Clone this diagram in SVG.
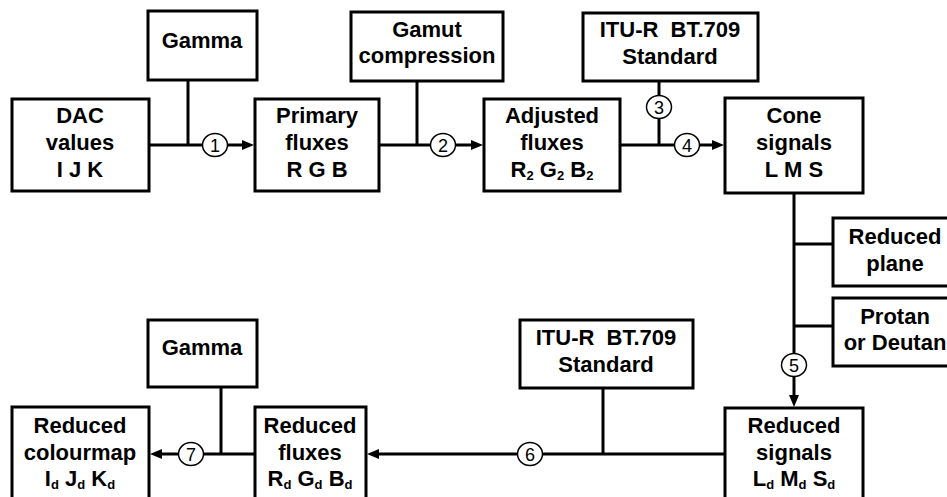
<svg xmlns="http://www.w3.org/2000/svg" width="947" height="497" viewBox="0 0 947 497">
<style>
.box{fill:#fff;stroke:#000;stroke-width:3}
.t{font-family:"Liberation Sans",Arial,sans-serif;font-weight:bold;font-size:22px;text-anchor:middle;fill:#000;white-space:pre}
.sub{font-size:13px}
.c{fill:#fff;stroke:#000;stroke-width:1.5}
.n{font-family:"Liberation Sans",Arial,sans-serif;font-size:18px;text-anchor:middle;fill:#000}
.ln{fill:none;stroke:#000;stroke-width:3}
</style>
<defs>
<marker id="ah" viewBox="0 0 12 10" refX="2" refY="5" markerWidth="12" markerHeight="10" markerUnits="userSpaceOnUse" orient="auto">
<path d="M0,0 L12,5 L0,10 z" fill="#000"/>
</marker>
</defs>
<rect width="947" height="497" fill="#fff"/>

<g id="connectors">
<line class="ln" x1="149" y1="145" x2="244" y2="145" marker-end="url(#ah)"/>
<line class="ln" x1="188" y1="80" x2="188" y2="145"/>
<line class="ln" x1="379" y1="145" x2="473" y2="145" marker-end="url(#ah)"/>
<line class="ln" x1="417" y1="81" x2="417" y2="145"/>
<line class="ln" x1="620" y1="145" x2="714" y2="145" marker-end="url(#ah)"/>
<line class="ln" x1="659" y1="81" x2="659" y2="145"/>
<line class="ln" x1="794" y1="193" x2="794" y2="397" marker-end="url(#ah)"/>
<line class="ln" x1="794" y1="244" x2="833" y2="244"/>
<line class="ln" x1="794" y1="326" x2="833" y2="326"/>
<line class="ln" x1="725" y1="454" x2="377" y2="454" marker-end="url(#ah)"/>
<line class="ln" x1="603" y1="388" x2="603" y2="454"/>
<line class="ln" x1="255" y1="454" x2="160" y2="454" marker-end="url(#ah)"/>
<line class="ln" x1="221" y1="387" x2="221" y2="454"/>
<g id="c1"><ellipse class="c" cx="215" cy="145" rx="12.5" ry="11.5"/><text class="n" x="215" y="151.5">1</text></g>
<g id="c2"><ellipse class="c" cx="443" cy="145" rx="12.5" ry="11.5"/><text class="n" x="443" y="151.5">2</text></g>
<g id="c3"><ellipse class="c" cx="659" cy="107" rx="12.5" ry="11.5"/><text class="n" x="659" y="113.5">3</text></g>
<g id="c4"><ellipse class="c" cx="687" cy="145" rx="12.5" ry="11.5"/><text class="n" x="687" y="151.5">4</text></g>
<g id="c5"><ellipse class="c" cx="794" cy="365" rx="12.5" ry="11.5"/><text class="n" x="794" y="371.5">5</text></g>
<g id="c6"><ellipse class="c" cx="530" cy="454" rx="12.5" ry="11.5"/><text class="n" x="530" y="460.5">6</text></g>
<g id="c7"><ellipse class="c" cx="191" cy="454" rx="12.5" ry="11.5"/><text class="n" x="191" y="460.5">7</text></g>
</g>

<g id="dac"><rect class="box" x="12" y="99" width="137" height="92"/>
<text class="t" x="80" y="123">DAC</text><text class="t" x="80" y="150">values</text><text class="t" x="80" y="177">I J K</text></g>

<g id="gamma1"><rect class="box" x="148" y="11" width="109" height="69"/>
<text class="t" x="202" y="48">Gamma</text></g>

<g id="primary"><rect class="box" x="255" y="99" width="124" height="92"/>
<text class="t" x="317" y="123">Primary</text><text class="t" x="317" y="150">fluxes</text><text class="t" x="317" y="177">R G B</text></g>

<g id="gamut"><rect class="box" x="351" y="12" width="152" height="69"/>
<text class="t" x="427" y="37">Gamut</text><text class="t" x="427" y="63">compression</text></g>

<g id="adjusted"><rect class="box" x="484" y="99" width="136" height="92"/>
<text class="t" x="552" y="123">Adjusted</text><text class="t" x="552" y="150">fluxes</text>
<text class="t" x="552" y="177">R<tspan class="sub" dy="3">2</tspan><tspan dy="-3"> G</tspan><tspan class="sub" dy="3">2</tspan><tspan dy="-3"> B</tspan><tspan class="sub" dy="3">2</tspan></text></g>

<g id="itu1"><rect class="box" x="583" y="13" width="175" height="68"/>
<text class="t" x="670" y="37">ITU-R  BT.709</text><text class="t" x="670" y="64">Standard</text></g>

<g id="cone"><rect class="box" x="725" y="98" width="138" height="95"/>
<text class="t" x="794" y="123">Cone</text><text class="t" x="794" y="150">signals</text><text class="t" x="794" y="177">L M S</text></g>

<g id="plane"><rect class="box" x="833" y="218" width="130" height="68"/>
<text class="t" x="895" y="244">Reduced</text><text class="t" x="895" y="271">plane</text></g>

<g id="protan"><rect class="box" x="833" y="298" width="130" height="68"/>
<text class="t" x="895" y="324">Protan</text><text class="t" x="895" y="350">or Deutan</text></g>

<g id="rsignals"><rect class="box" x="725" y="408" width="138" height="100"/>
<text class="t" x="794" y="433">Reduced</text><text class="t" x="794" y="460">signals</text>
<text class="t" x="794" y="486">L<tspan class="sub" dy="3">d</tspan><tspan dy="-3"> M</tspan><tspan class="sub" dy="3">d</tspan><tspan dy="-3"> S</tspan><tspan class="sub" dy="3">d</tspan></text></g>

<g id="itu2"><rect class="box" x="520" y="320" width="173" height="68"/>
<text class="t" x="606" y="345">ITU-R  BT.709</text><text class="t" x="606" y="372">Standard</text></g>

<g id="rfluxes"><rect class="box" x="255" y="407" width="111" height="100"/>
<text class="t" x="310" y="433">Reduced</text><text class="t" x="310" y="460">fluxes</text>
<text class="t" x="310" y="486">R<tspan class="sub" dy="3">d</tspan><tspan dy="-3"> G</tspan><tspan class="sub" dy="3">d</tspan><tspan dy="-3"> B</tspan><tspan class="sub" dy="3">d</tspan></text></g>

<g id="gamma2"><rect class="box" x="148" y="320" width="109" height="67"/>
<text class="t" x="202" y="355">Gamma</text></g>

<g id="colourmap"><rect class="box" x="12" y="407" width="137" height="100"/>
<text class="t" x="80" y="433">Reduced</text><text class="t" x="80" y="460">colourmap</text>
<text class="t" x="80" y="486">I<tspan class="sub" dy="3">d</tspan><tspan dy="-3"> J</tspan><tspan class="sub" dy="3">d</tspan><tspan dy="-3"> K</tspan><tspan class="sub" dy="3">d</tspan></text></g>
</svg>
